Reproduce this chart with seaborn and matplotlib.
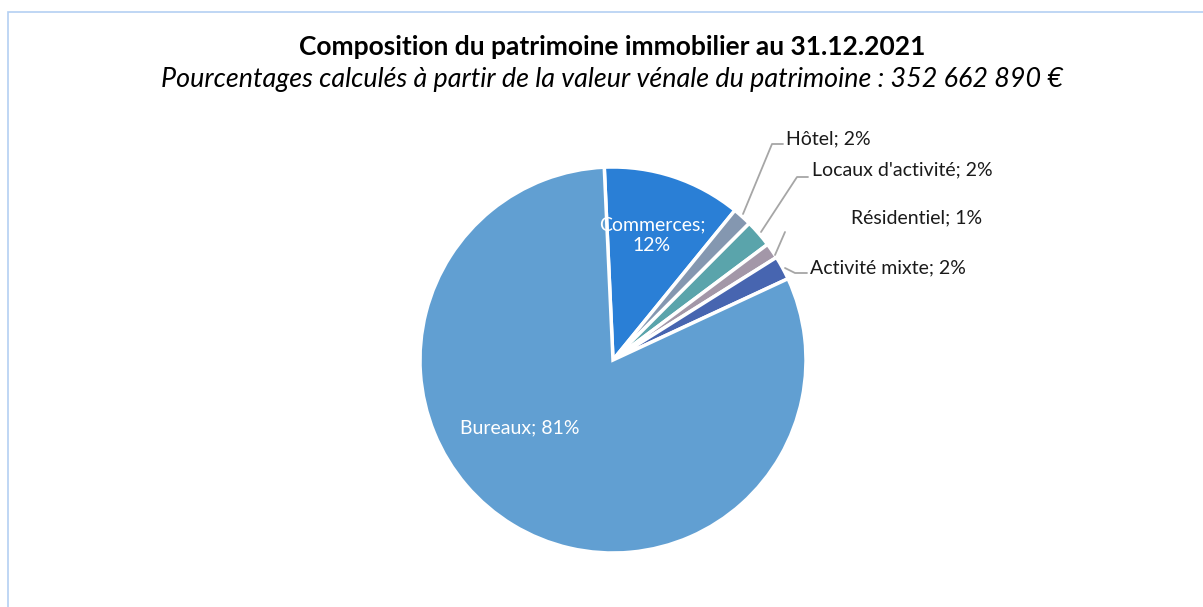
import numpy as np
import matplotlib
matplotlib.use("Agg")
import matplotlib.pyplot as plt
import seaborn as sns
from matplotlib.patches import Rectangle

# data (clockwise from top)
categories = ["Commerces", "Hôtel", "Locaux d'activité", "Résidentiel", "Activité mixte", "Bureaux"]
shares = [11.6, 1.6, 2.3, 1.3, 2.0, 81.2]
colors = ["#2a7fd6", "#8497b0", "#5aa4ab", "#a397a8", "#4765b0", "#619fd2"]

title = "Composition du patrimoine immobilier au 31.12.2021"
subtitle = "Pourcentages calculés à partir de la valeur vénale du patrimoine : 352 662 890 €"

sns.set_theme(style="white")
plt.rcParams["font.family"] = ["Lato", "DejaVu Sans"]

W, H = 1203, 607
fig = plt.figure(figsize=(W / 100, H / 100), dpi=100)

# chart area border (Excel style)
fig.patches.append(Rectangle((8 / W, -0.1), 1.2, (H - 12) / H + 0.1, transform=fig.transFigure,
                             fill=False, edgecolor="#b4d0f2", linewidth=1.2))

# pie centre (613,360) px, radius 193 px
cx, cy, r = 613, 360, 193
ax = fig.add_axes([(cx - r) / W, (H - cy - r) / H, 2 * r / W, 2 * r / H])

wedges, _ = ax.pie(shares, colors=colors, startangle=92.6, counterclock=False,
                   wedgeprops=dict(edgecolor="white", linewidth=2.5))
ax.set_xlim(-1, 1)
ax.set_ylim(-1, 1)


def px(x, y):
    return ((x - cx) / r, (cy - y) / r)


labels = [f"{c}; {round(s):.0f}%" for c, s in zip(categories, shares)]

# inside labels
ax.text(*px(652, 235), f"{categories[0]};\n{round(shares[0]):.0f}%",
        ha="center", va="center", color="white", fontsize=14, linespacing=1.3)
ax.text(*px(520, 428), labels[5], ha="center", va="center", color="white", fontsize=14)

# outside labels with leader lines
lc = "#a6a6a6"
leaders = {
    1: [(743, 214), (772, 144), (783, 144)],
    2: [(761, 232), (797, 177), (808, 177)],
    3: [(775, 255), (785, 232)],
    4: [(785, 268), (795, 273), (807, 273)],
}
text_pos = {1: (786, 139), 2: (812, 170), 3: (851, 218), 4: (810, 268)}
for i, pts in leaders.items():
    xs, ys = zip(*[px(*p) for p in pts])
    ax.plot(xs, ys, color=lc, lw=1.3, clip_on=False)
    ax.text(*px(*text_pos[i]), labels[i], ha="left", va="center", color="#1a1a1a",
            fontsize=14, clip_on=False)

fig.text(612 / W, 1 - 47 / H, title, ha="center", va="center", fontsize=19,
         fontweight="bold", color="black")
fig.text(612 / W, 1 - 80 / H, subtitle, ha="center", va="center", fontsize=19.4,
         style="italic", color="black")

fig.savefig("out.png", dpi=100)
